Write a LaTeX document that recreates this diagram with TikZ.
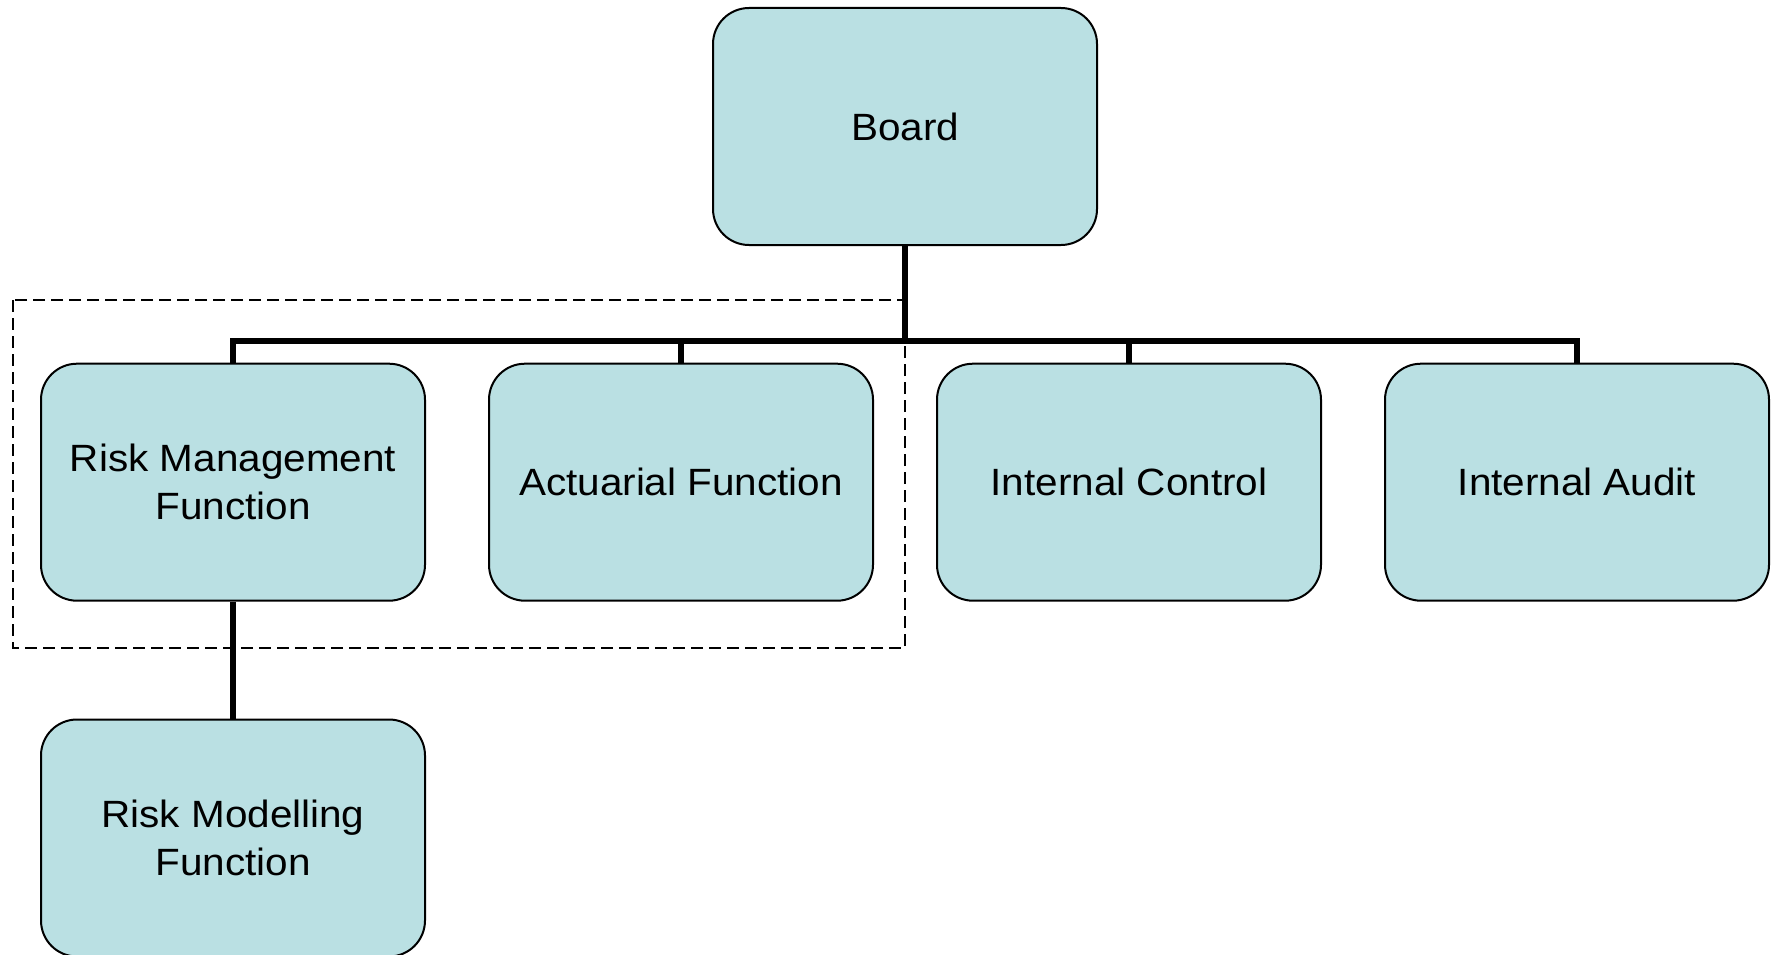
\documentclass[tikz,border=0pt]{standalone}
\usepackage{fontspec}
\setmainfont{Liberation Sans}[FakeStretch=1.065]
\definecolor{boxfill}{RGB}{186,224,227}
\tikzset{
  orgbox/.style={draw=black, line width=2pt, fill=boxfill, rounded corners=36pt,
    minimum width=384pt, minimum height=237pt, inner sep=0pt, align=center,
    font=\fontsize{38}{48}\selectfont},
  conn/.style={draw=black, line width=6pt, line join=miter, line cap=butt},
  groupframe/.style={draw=black, line width=2pt, dash pattern=on 12pt off 6pt}
}
\begin{document}
\begin{tikzpicture}[x=1pt, y=-1pt]
\useasboundingbox (0,0) rectangle (1771,955);
\coordinate (bar) at (905,341);
\coordinate (fa) at (13,300);
\coordinate (fb) at (905,648);
\draw[groupframe] (fa) rectangle (fb);
\node[orgbox] (board) at (905,126.5) {Board};
\node[orgbox] (rm) at (233,482.2) {Risk Management\\Function};
\node[orgbox] (af) at (681,482.2) {Actuarial Function};
\node[orgbox] (ic) at (1129,482.2) {Internal Control};
\node[orgbox] (ia) at (1577,482.2) {Internal Audit};
\node[orgbox] (rmod) at (233,838) {Risk Modelling\\Function};
\draw[conn] (board.south) -- (bar);
\draw[conn] (rm.north) -- (rm.north |- bar) -- (ia.north |- bar) -- (ia.north);
\draw[conn] (af.north) -- (af.north |- bar);
\draw[conn] (ic.north) -- (ic.north |- bar);
\draw[conn] (rm.south) -- (rmod.north);
\end{tikzpicture}
\end{document}
